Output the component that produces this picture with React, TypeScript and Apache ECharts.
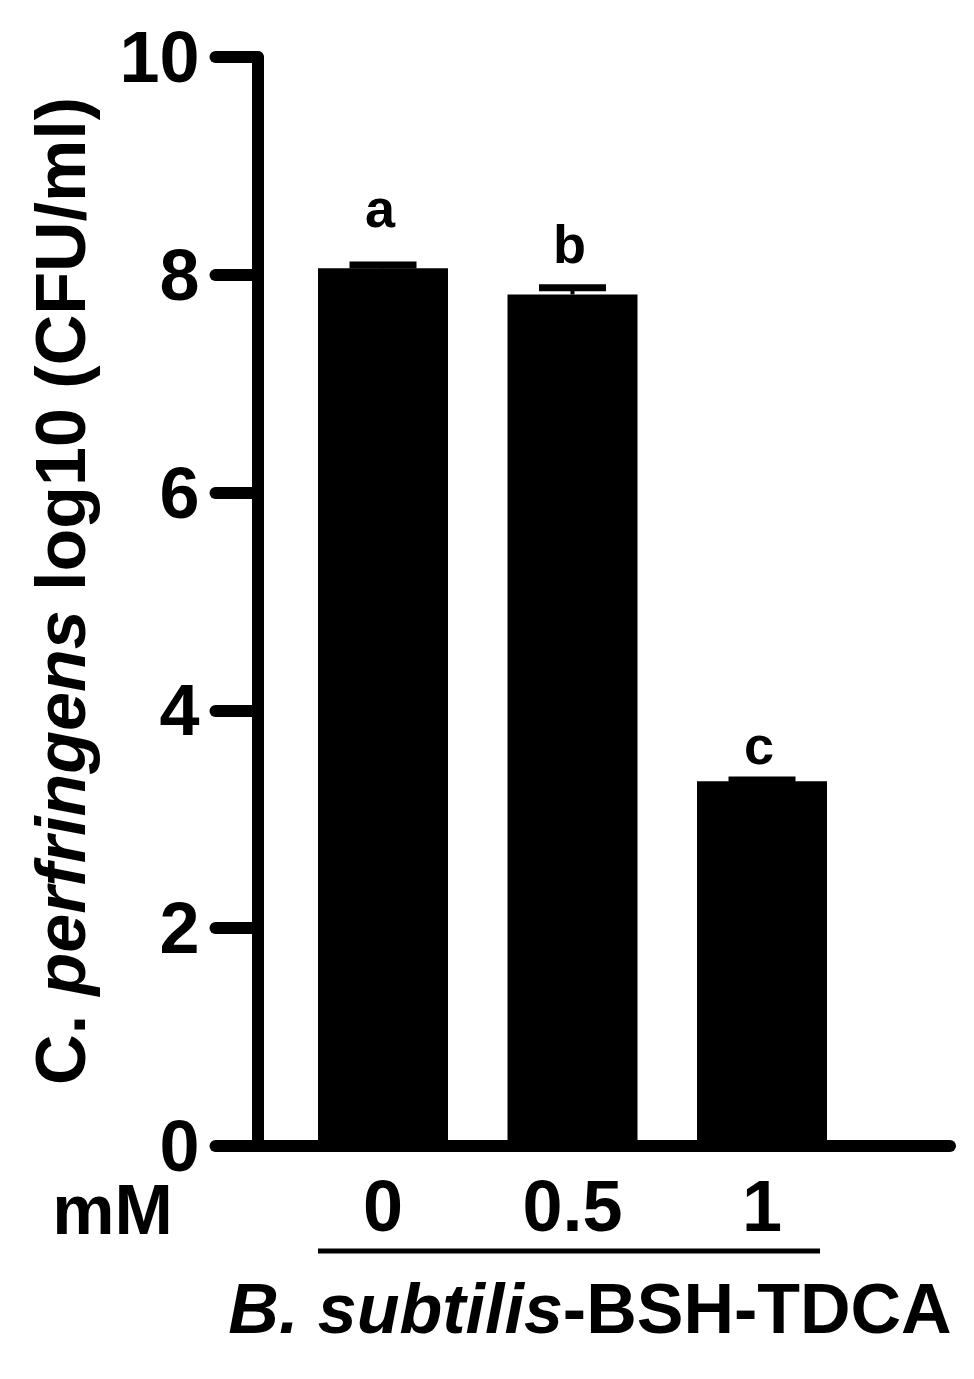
import React, { useEffect, useRef } from "react";
import * as echarts from "echarts";

// ---- data ----
const categories = ["0", "0.5", "1"];
const means = [8.06, 7.82, 3.35];
const errors = [0.03, 0.06, 0.01];
const letters = ["a", "b", "c"];
const letterLevels = [8.61, 8.28, 3.68];
const yMin = 0;
const yMax = 10;
const yInterval = 2;

const FONT = "'Liberation Sans', Arial, Helvetica, sans-serif";

export default function App() {
  const ref = useRef<HTMLDivElement>(null);

  useEffect(() => {
    if (!ref.current) return;
    const chart = echarts.init(ref.current, null, { renderer: "svg" });
    const gridTop = 57;
    const gridBottom = 233;

    const option: any = {
      animation: false,
      backgroundColor: "#fff",
      grid: [
        { left: 257.5, right: 24, top: gridTop, bottom: gridBottom },
        { left: 288.25, right: 117.25, top: gridTop, bottom: gridBottom },
      ],
      xAxis: [
        {
          gridIndex: 0,
          type: "value",
          min: 0,
          max: 1,
          axisLine: { show: true, onZero: false, lineStyle: { color: "#000", width: 12, cap: "round" } },
          axisTick: { show: false },
          axisLabel: { show: false },
          splitLine: { show: false },
        },
        {
          gridIndex: 1,
          type: "category",
          data: categories,
          axisLine: { show: false },
          axisTick: { show: false },
          axisLabel: {
            color: "#000",
            fontFamily: FONT,
            fontWeight: "bold",
            fontSize: 72,
            margin: 60,
            verticalAlign: "middle",
          },
          splitLine: { show: false },
        },
      ],
      yAxis: [
        {
          gridIndex: 0,
          type: "value",
          min: yMin,
          max: yMax,
          interval: yInterval,
          axisLine: { show: true, lineStyle: { color: "#000", width: 12, cap: "round" } },
          axisTick: { show: true, length: 42, lineStyle: { color: "#000", width: 12, cap: "round" } },
          axisLabel: {
            color: "#000",
            fontFamily: FONT,
            fontWeight: "bold",
            fontSize: 72,
            margin: 58,
          },
          splitLine: { show: false },
        },
        {
          gridIndex: 1,
          type: "value",
          min: yMin,
          max: yMax,
          interval: yInterval,
          show: false,
        },
      ],
      series: [
        {
          type: "bar",
          xAxisIndex: 1,
          yAxisIndex: 1,
          data: means,
          barWidth: 130,
          itemStyle: { color: "#000" },
          z: 1,
        },
        {
          type: "custom",
          xAxisIndex: 1,
          yAxisIndex: 1,
          data: means.map((m, i) => [i, m, m + errors[i]]),
          encode: { x: 0, y: [1, 2] },
          z: 3,
          renderItem: (params: any, api: any) => {
            const x = api.value(0);
            const base = api.coord([x, api.value(1)]);
            const top = api.coord([x, api.value(2)]);
            return {
              type: "group",
              children: [
                {
                  type: "line",
                  shape: { x1: top[0], y1: base[1], x2: top[0], y2: top[1] },
                  style: { stroke: "#000", lineWidth: 4 },
                },
                {
                  type: "line",
                  shape: { x1: top[0] - 33.5, y1: top[1], x2: top[0] + 33.5, y2: top[1] },
                  style: { stroke: "#000", lineWidth: 7 },
                },
              ],
            };
          },
        },
        {
          type: "custom",
          xAxisIndex: 1,
          yAxisIndex: 1,
          data: letterLevels.map((v, i) => [i, v]),
          z: 4,
          renderItem: (params: any, api: any) => {
            const p = api.coord([api.value(0), api.value(1)]);
            return {
              type: "text",
              x: p[0] - 3,
              y: p[1],
              style: {
                text: letters[params.dataIndex],
                fill: "#000",
                font: `bold 54px ${FONT}`,
                align: "center",
                verticalAlign: "middle",
              },
            };
          },
        },
      ],
      graphic: [
        {
          type: "text",
          x: 61,
          y: 591,
          rotation: Math.PI / 2,
          style: {
            text: "{n|C. }{i|perfringens}{n| log10 (CFU/ml)}",
            align: "center",
            verticalAlign: "middle",
            rich: {
              n: { fontFamily: FONT, fontWeight: "bold", fontSize: 70, fill: "#000", color: "#000" },
              i: { fontFamily: FONT, fontWeight: "bold", fontStyle: "italic", fontSize: 70, fill: "#000", color: "#000" },
            },
          },
        },
        {
          type: "text",
          x: 112.5,
          y: 1210,
          style: {
            text: "mM",
            fill: "#000",
            font: `bold 70px ${FONT}`,
            align: "center",
            verticalAlign: "middle",
          },
        },
        {
          type: "line",
          shape: { x1: 318, y1: 1251, x2: 820, y2: 1251 },
          style: { stroke: "#000", lineWidth: 5 },
        },
        {
          type: "text",
          x: 590,
          y: 1309,
          style: {
            text: "{i|B. subtilis}{n|-BSH-TDCA}",
            align: "center",
            verticalAlign: "middle",
            rich: {
              n: { fontFamily: FONT, fontWeight: "bold", fontSize: 70, fill: "#000", color: "#000" },
              i: { fontFamily: FONT, fontWeight: "bold", fontStyle: "italic", fontSize: 70, fill: "#000", color: "#000" },
            },
          },
        },
      ],
    };

    chart.setOption(option);
    return () => chart.dispose();
  }, []);

  return (
    <div
      ref={ref}
      style={{ position: "absolute", left: 0, top: 0, width: 974, height: 1379, background: "#fff" }}
    />
  );
}
